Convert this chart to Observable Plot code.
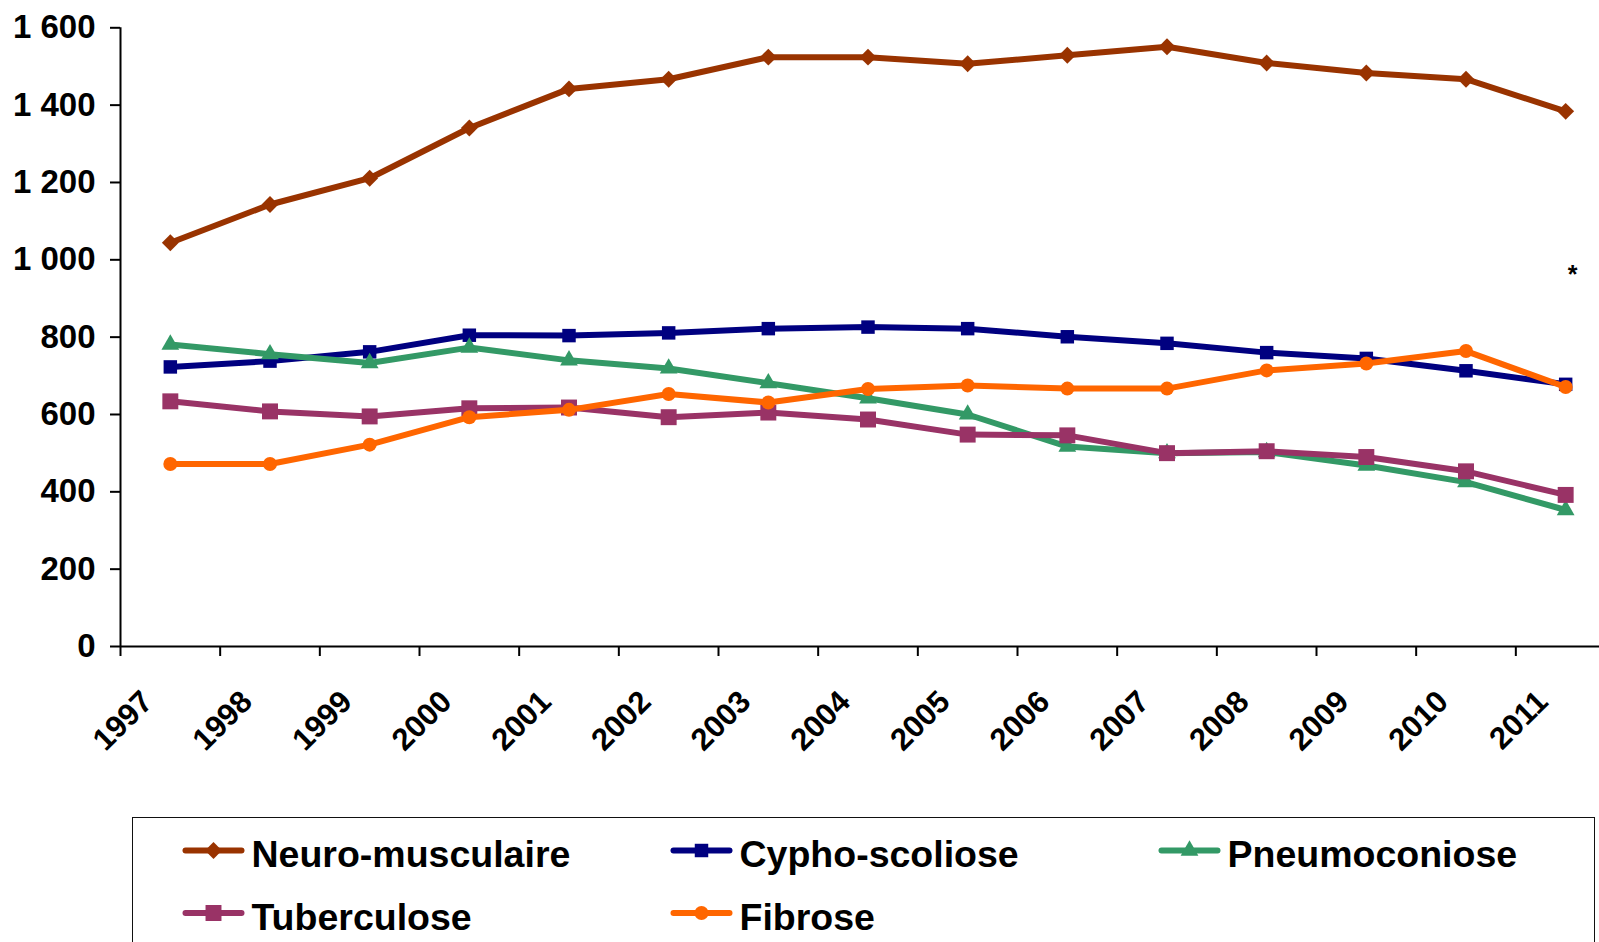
<!DOCTYPE html>
<html>
<head>
<meta charset="utf-8">
<script src="https://cdn.jsdelivr.net/npm/d3@7"></script>
<script src="https://cdn.jsdelivr.net/npm/@observablehq/plot@0.6"></script>
<style>
  html, body { margin: 0; padding: 0; background: #fff; }
  #wrap { position: relative; width: 1599px; height: 942px; overflow: hidden; background: #fff; font-family: "Liberation Sans", Arial, sans-serif; }
  #chart { position: absolute; left: 0; top: 0; }
  #legend { position: absolute; left: 132px; top: 816.5px; width: 1463px; height: 200px; border: 1.5px solid #111; box-sizing: border-box; }
  #legend svg { position: absolute; left: 0; top: 0; }
</style>
</head>
<body>
<div id="wrap">
  <div id="chart"></div>
  <div id="legend"></div>
</div>
<script>
// ---- data ----
const years = ["1997","1998","1999","2000","2001","2002","2003","2004","2005","2006","2007","2008","2009","2010","2011"];
const neuroMusculaire = [1044, 1143, 1211, 1341, 1442, 1467, 1524, 1524, 1507, 1529, 1551, 1509, 1483, 1467, 1384];
const cyphoScoliose   = [723, 738, 762, 805, 804, 811, 822, 826, 822, 801, 784, 760, 745, 713, 678];
const pneumoconiose   = [781, 756, 733, 773, 740, 719, 681, 642, 600, 517, 500, 503, 468, 425, 353];
const tuberculose     = [634, 608, 595, 616, 618, 593, 605, 587, 548, 546, 500, 505, 490, 453, 392];
const fibrose         = [472, 472, 522, 593, 612, 653, 631, 666, 675, 667, 667, 714, 732, 764, 671];
const seriesNames  = ["Neuro-musculaire", "Cypho-scoliose", "Pneumoconiose", "Tuberculose", "Fibrose"];
const seriesColors = ["#993300", "#000080", "#339966", "#993366", "#FF6600"];
const seriesSymbols = ["diamond2", "square", "triangle", "square", "circle"];
const seriesR = [7.6, 7.6, 6.6, 9.0, 7.0];
const yTicks = [0, 200, 400, 600, 800, 1000, 1200, 1400, 1600];
const noteText = "*";
const noteYear = 14.57;   // position along category axis (index units)
const noteValue = 962;

const seriesValues = [neuroMusculaire, cyphoScoliose, pneumoconiose, tuberculose, fibrose];

// ---- build table ----
const rows = [];
seriesNames.forEach((name, s) => {
  years.forEach((yr, i) => rows.push({series: name, s, i, year: yr, value: seriesValues[s][i]}));
});

const fmt = d3.formatLocale({decimal: ",", thousands: " ", grouping: [3], currency: ["", ""]}).format(",");
const boundaries = d3.range(0, years.length + 1);

const seriesMarks = [];
seriesNames.forEach((name, s) => {
  const data = rows.filter(r => r.s === s);
  seriesMarks.push(Plot.line(data, {x: d => d.i + 0.5, y: "value", stroke: seriesColors[s], strokeWidth: 6, strokeLinejoin: "round"}));
  seriesMarks.push(Plot.dot(data, {x: d => d.i + 0.5, y: "value", symbol: () => seriesSymbols[s], r: seriesR[s], fill: seriesColors[s], stroke: "none"}));
});

const chart = Plot.plot({
  width: 1599,
  height: 800,
  marginLeft: 120,
  marginRight: -16,
  marginTop: 27.3,
  marginBottom: 154,
  x: {type: "linear", domain: [0, years.length], axis: null},
  y: {domain: [0, 1600], axis: null},
  symbol: {type: "identity"},
  style: {fontFamily: "'Liberation Sans', Arial, sans-serif", color: "#000", background: "#fff", overflow: "visible"},
  marks: [
    Plot.axisY(yTicks, {anchor: "left", label: null, tickSize: 10, tickPadding: 15, fontSize: 33, fontWeight: "bold", tickFormat: fmt, strokeWidth: 2, stroke: "#000", fill: "#000"}),
    Plot.axisX(boundaries, {anchor: "bottom", label: null, tickSize: 10, tickFormat: () => "", strokeWidth: 2, stroke: "#000"}),
    Plot.ruleY([0], {stroke: "#000", strokeWidth: 2}),
    Plot.ruleX([0], {stroke: "#000", strokeWidth: 2}),
    ...seriesMarks,
    Plot.text(years, {x: (d, i) => i + 0.5, y: () => 0, text: d => d, rotate: -45, textAnchor: "end", lineAnchor: "bottom", dx: -16, dy: 57, fontSize: 31, fontWeight: "bold", fill: "#000"}),
    Plot.text([noteText], {x: () => noteYear, y: () => noteValue, text: d => d, fontSize: 25, fontWeight: "bold", fill: "#000"})
  ]
});
document.getElementById("chart").appendChild(chart);

// ---- legend (HTML box below chart) ----
const legendDiv = d3.select("#legend");
const lsvg = legendDiv.append("svg").attr("width", 1463).attr("height", 200)
  .style("font-family", "'Liberation Sans', Arial, sans-serif");
const colX = [52.5, 540.5, 1028.5];
const rowY = [32.5, 95];
const symMap = {diamond2: d3.symbolDiamond2, square: d3.symbolSquare, triangle: d3.symbolTriangle, circle: d3.symbolCircle};
seriesNames.forEach((name, s) => {
  const cx = colX[s % 3], cy = rowY[Math.floor(s / 3)];
  const g = lsvg.append("g").attr("transform", `translate(${cx},${cy})`);
  g.append("line").attr("x1", 0).attr("x2", 56).attr("y1", 0).attr("y2", 0)
    .attr("stroke", seriesColors[s]).attr("stroke-width", 6).attr("stroke-linecap", "round");
  g.append("path").attr("transform", "translate(28,0)")
    .attr("d", d3.symbol(symMap[seriesSymbols[s]], Math.PI * seriesR[s] * seriesR[s])())
    .attr("fill", seriesColors[s]);
  g.append("text").attr("x", 66).attr("y", 16.5).attr("font-size", 37.5).attr("font-weight", "bold")
    .attr("fill", "#000").text(name);
});
</script>
</body>
</html>
